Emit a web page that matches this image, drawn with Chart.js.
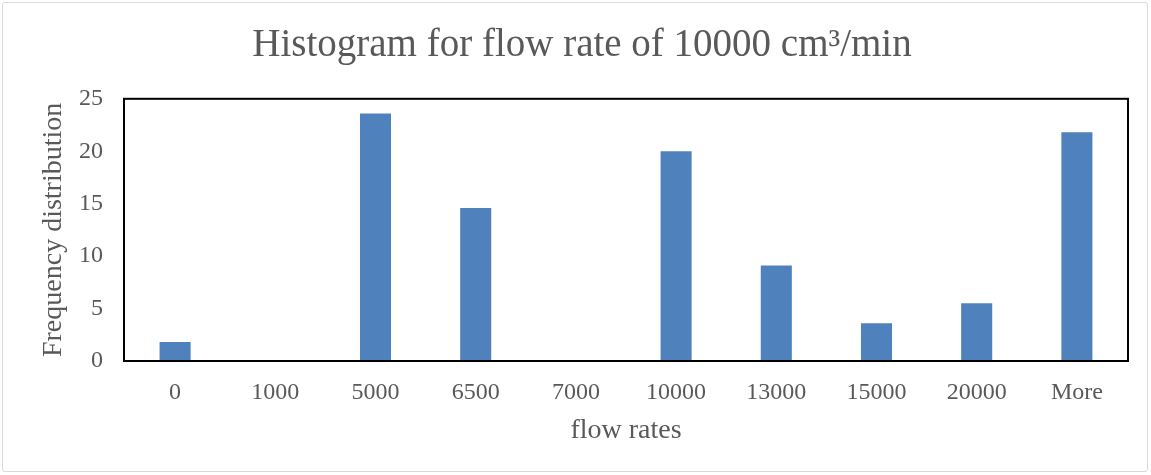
<!DOCTYPE html>
<html>
<head>
<meta charset="utf-8">
<title>Histogram for flow rate of 10000 cm³/min</title>
<script src="https://cdn.jsdelivr.net/npm/chart.js@4"></script>
<style>
  html, body { margin: 0; padding: 0; background: #ffffff; }
  #wrap { position: relative; width: 1151px; height: 475px; }
  #frame {
    position: absolute; left: 2px; top: 2px; width: 1144px; height: 468px;
    border: 1px solid #d9d9d9; border-radius: 3px; pointer-events: none;
  }
  canvas { position: absolute; left: 0; top: 0; }
</style>
</head>
<body>
<div id="wrap">
  <canvas id="chart" width="1151" height="475"></canvas>
  <div id="frame"></div>
</div>
<script>
// Bin labels and counts for the flow-rate histogram
const binLabels = ['0', '1000', '5000', '6500', '7000', '10000', '13000', '15000', '20000', 'More'];
const frequencies = [1.8, 0, 23.6, 14.6, 0, 20, 9.1, 3.6, 5.5, 21.8];
const yTicks = [0, 5, 10, 15, 20, 25];

const FONT = "'Liberation Serif', 'Times New Roman', serif";
const TEXT = '#595959';

// Black box around the plotting area
const plotBox = {
  id: 'plotBox',
  afterDatasetsDraw(chart) {
    const { ctx, chartArea: a } = chart;
    ctx.save();
    ctx.strokeStyle = '#000000';
    ctx.lineWidth = 2;
    ctx.strokeRect(a.left - 1, a.top, a.right - a.left + 2, a.bottom - a.top);
    ctx.restore();
  }
};

new Chart(document.getElementById('chart'), {
  type: 'bar',
  data: {
    labels: binLabels,
    datasets: [{
      label: 'Frequency',
      data: frequencies,
      backgroundColor: '#4f81bd',
      borderWidth: 0,
      barPercentage: 0.31,
      categoryPercentage: 1.0
    }]
  },
  options: {
    responsive: false,
    animation: false,
    layout: { padding: { left: 37, right: 24, top: 0, bottom: 0 } },
    plugins: {
      legend: { display: false },
      tooltip: { enabled: false },
      title: {
        display: true,
        text: 'Histogram for flow rate of 10000 cm³/min',
        color: TEXT,
        font: { family: FONT, size: 39, weight: 'normal', lineHeight: 1.2 },
        padding: { top: 22, bottom: 30 }
      }
    },
    scales: {
      x: {
        grid: { display: false, drawTicks: false },
        border: { display: false },
        ticks: { color: TEXT, font: { family: FONT, size: 24 }, padding: 17, maxRotation: 0 },
        title: {
          display: true, text: 'flow rates', color: TEXT,
          font: { family: FONT, size: 28 }, padding: { top: 0, bottom: 28 }
        },
        afterFit(scale) { scale.height = 114; }
      },
      y: {
        min: 0, max: 25,
        grid: { display: false, drawTicks: false },
        border: { display: false },
        afterBuildTicks(scale) { scale.ticks = yTicks.map(v => ({ value: v })); },
        ticks: { color: TEXT, font: { family: FONT, size: 24 }, padding: 22 },
        title: {
          display: true, text: 'Frequency distribution', color: TEXT,
          font: { family: FONT, size: 28 }, padding: { top: 0, bottom: 0 }
        },
        afterFit(scale) { scale.width = 88; }
      }
    }
  },
  plugins: [plotBox]
});
</script>
</body>
</html>
